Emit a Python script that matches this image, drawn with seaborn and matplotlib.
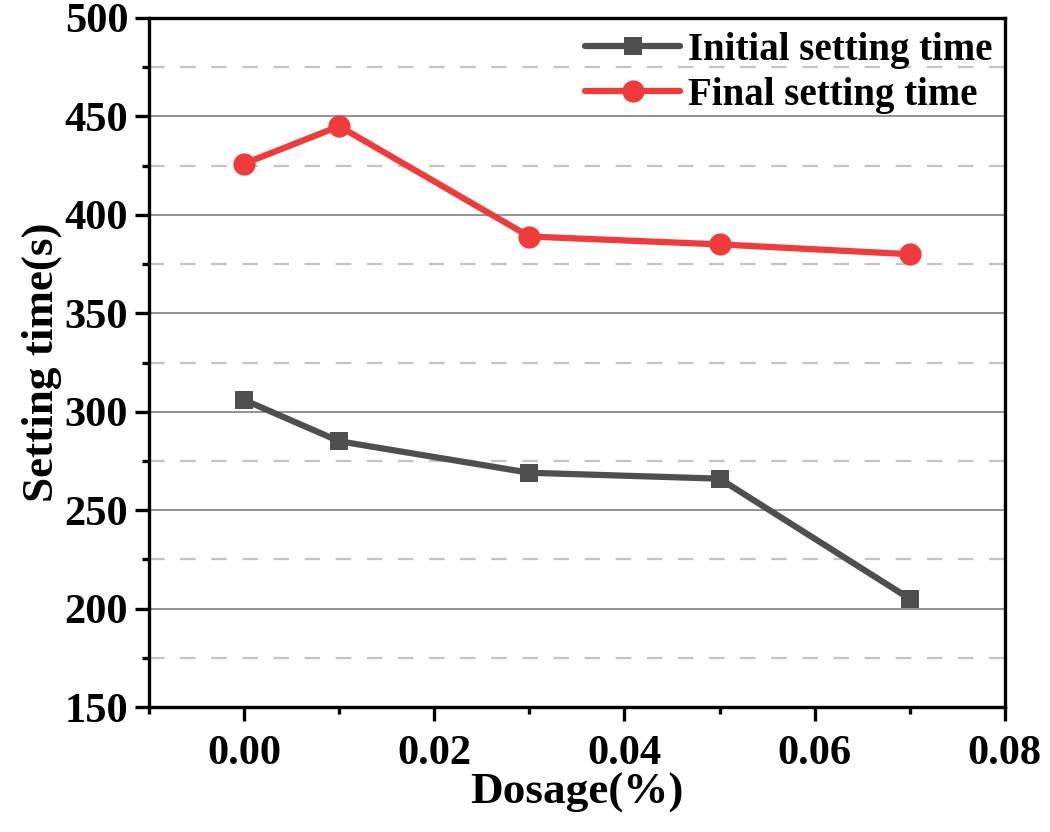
import matplotlib
matplotlib.use("Agg")
import matplotlib.pyplot as plt
import seaborn as sns
import pandas as pd
from matplotlib.ticker import MultipleLocator

dosage = [0.00, 0.01, 0.03, 0.05, 0.07]
initial_time = [306, 285, 269, 266, 205]
final_time = [426, 445, 389, 385, 380]
series_names = ["Initial setting time", "Final setting time"]
x_ticks = [0.00, 0.02, 0.04, 0.06, 0.08]
y_ticks = [150, 200, 250, 300, 350, 400, 450, 500]

df = pd.DataFrame({
    "Dosage": dosage * 2,
    "Time": initial_time + final_time,
    "Series": [series_names[0]] * len(dosage) + [series_names[1]] * len(dosage),
})

sns.set_theme(style="white")
plt.rcParams['font.family'] = ['Liberation Serif', 'DejaVu Serif']
plt.rcParams['font.weight'] = 'bold'
plt.rcParams['axes.labelweight'] = 'bold'
plt.rcParams['text.color'] = 'black'
plt.rcParams['axes.labelcolor'] = 'black'
plt.rcParams['xtick.color'] = 'black'
plt.rcParams['ytick.color'] = 'black'

fig = plt.figure(figsize=(10.5, 8.32), dpi=100)
ax = fig.add_axes([0.1419, 0.1502, 0.8151, 0.8282])

palette = {series_names[0]: "#4f4f4f", series_names[1]: "#ef3b3b"}
markers = {series_names[0]: "s", series_names[1]: "o"}
sns.lineplot(data=df, x="Dosage", y="Time", hue="Series", style="Series",
             palette=palette, markers=markers, dashes=False, linewidth=4.5,
             markersize=16, markeredgewidth=0, ax=ax, zorder=3)
for ln in ax.lines:
    if ln.get_marker() == 's':
        ln.set_markersize(13)

ax.set_xlim(-0.01, 0.08)
ax.set_ylim(150, 500)
ax.set_xticks(x_ticks)
ax.set_xticklabels([f"{v:.2f}" for v in x_ticks])
ax.set_yticks(y_ticks)
ax.set_yticklabels([str(v) for v in y_ticks])
ax.xaxis.set_minor_locator(MultipleLocator(0.01))
ax.yaxis.set_minor_locator(MultipleLocator(25))

ax.grid(False)
ax.yaxis.grid(True, which='major', color='#8a8a8a', linewidth=1.3, linestyle='-')
ax.yaxis.grid(True, which='minor', color='#c4c4c4', linewidth=1.6, linestyle=(0, (7, 7)))
ax.set_axisbelow(True)

for s in ax.spines.values():
    s.set_linewidth(2.4)
    s.set_color('black')

ax.tick_params(axis='both', which='major', direction='out', length=10, width=2.4,
               labelsize=30.5, pad=5, colors='black', labelcolor='black',
               left=True, bottom=True)
ax.tick_params(axis='both', which='minor', direction='out', length=5, width=2.4,
               colors='black', left=True, bottom=True)
for lbl in ax.get_xticklabels() + ax.get_yticklabels():
    lbl.set_fontweight('bold')
ax.xaxis.set_tick_params(pad=10)

ax.set_xlabel("Dosage(%)", fontsize=32.5, fontweight='bold', labelpad=0, color='black')
ax.set_ylabel("Setting time(s)", fontsize=32.5, fontweight='bold', labelpad=2, color='black')

leg = ax.legend(loc='upper right', bbox_to_anchor=(1.006, 1.005), frameon=False,
                prop={'family': 'Liberation Serif', 'weight': 'bold', 'size': 28},
                handlelength=2.45, handletextpad=0.2, labelspacing=0.2,
                borderaxespad=0.05)
for h in leg.get_lines():
    h.set_linewidth(4.5)
for t in leg.get_texts():
    t.set_color('black')

fig.savefig("out.png", dpi=100)
